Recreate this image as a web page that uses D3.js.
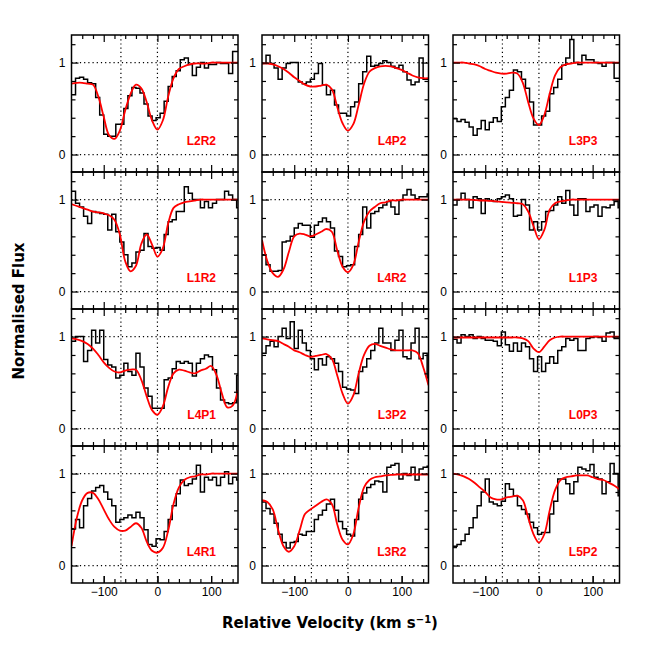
<!doctype html>
<html>
<head>
<meta charset="utf-8">
<title>Normalised flux panels</title>
<script src="https://d3js.org/d3.v7.min.js"></script>
<style>
body { margin:0; background:#fff; }
svg { display:block; font-family:"Liberation Sans", Arial, sans-serif; }
.axis path { display:none; }
.axis line { stroke:#000; stroke-width:1.2; }
.axis text { font-size:12px; fill:#000; }
.title { font-family:"DejaVu Sans", sans-serif; font-weight:bold; font-size:15px; }
</style>
</head>
<body>
<script>
// velocity grid (km/s): left edges of the data bins, and the model sample points
var binLeft = [-160,-152.5,-145,-137.5,-130,-122.5,-115,-107.5,-100,-92.5,-85,-77.5,-70,-62.5,-55,-47.5,-40,-32.5,-25,-17.5,-10,-2.5,5,12.5,20,27.5,35,42.5,50,57.5,65,72.5,80,87.5,95,102.5,110,117.5,125,132.5,140,147.5];
var binEnd = 155;
var modelVel = [-160,-150,-140,-130,-120,-110,-100,-90,-80,-70,-60,-50,-40,-30,-20,-10,0,10,20,30,40,50,60,70,80,90,100,110,120,130,140,150];

var majorX = [-100,0,100];
var minorX = [-140,-120,-80,-60,-40,-20,20,40,60,80,120,140];
var majorY = [0,1];
var minorY = [0.2,0.4,0.6,0.8,1.2];
var refVel = [-68,0];

var fluxL2R2 = [0.65,0.83,0.84,0.82,0.78,0.77,0.62,0.43,0.22,0.2,0.2,0.33,0.33,0.5,0.64,0.73,0.72,0.67,0.55,0.42,0.37,0.4,0.45,0.58,0.74,0.85,0.91,1.03,1.05,0.98,0.86,0.95,1.0,0.94,0.98,0.98,1.0,0.99,0.99,0.88,1.12,1.12];
var modelL2R2 = [0.77,0.78,0.78,0.77,0.76,0.63,0.41,0.21,0.17,0.26,0.48,0.66,0.76,0.72,0.57,0.37,0.27,0.37,0.63,0.83,0.93,0.96,0.98,0.99,0.99,0.99,1.0,1.0,1.0,1.0,1.0,1.0];

var fluxL4P2 = [0.99,1.08,0.99,0.94,0.82,0.94,0.99,1.0,1.0,0.79,0.77,0.79,0.82,0.88,0.99,0.76,0.65,0.7,0.54,0.45,0.45,0.42,0.52,0.57,0.77,0.9,1.07,0.96,0.97,0.99,1.02,1.0,0.96,0.94,0.97,0.9,0.81,0.76,0.79,1.05,0.82,0.82];
var modelL4P2 = [0.99,0.99,0.98,0.96,0.93,0.89,0.84,0.80,0.76,0.74,0.74,0.75,0.76,0.71,0.52,0.34,0.26,0.33,0.54,0.77,0.90,0.94,0.96,0.965,0.96,0.94,0.92,0.89,0.86,0.84,0.83,0.83];

var fluxL3P3 = [0.39,0.36,0.38,0.35,0.3,0.21,0.28,0.37,0.27,0.35,0.4,0.36,0.52,0.62,0.7,0.92,0.9,0.82,0.72,0.57,0.32,0.32,0.42,0.47,0.66,0.73,0.82,0.97,1.05,1.25,1.0,0.98,1.08,1.03,1.03,1.0,0.99,0.96,1.0,1.0,0.83,0.83];
var modelL3P3 = [1.0,1.0,1.0,0.99,0.98,0.96,0.93,0.91,0.89,0.88,0.88,0.89,0.88,0.78,0.57,0.39,0.32,0.43,0.66,0.86,0.95,0.98,0.99,1.0,1.0,1.0,1.0,1.0,1.0,1.0,1.0,1.0];

var fluxL1R2 = [1.09,0.96,0.92,0.82,0.74,0.87,0.86,0.85,0.84,0.67,0.84,0.65,0.54,0.40,0.27,0.31,0.43,0.45,0.63,0.49,0.47,0.48,0.45,0.62,0.76,0.78,0.87,0.87,1.14,1.07,1.0,1.0,0.91,0.98,0.91,0.96,1.0,1.0,1.09,1.05,1.0,0.91];
var modelL1R2 = [0.95,0.93,0.91,0.89,0.87,0.86,0.85,0.83,0.78,0.62,0.33,0.22,0.28,0.52,0.62,0.51,0.38,0.47,0.74,0.91,0.95,0.97,0.98,0.99,1.0,1.0,1.0,1.0,1.0,1.0,1.0,1.0];

var fluxL4R2 = [0.40,0.29,0.22,0.22,0.23,0.54,0.55,0.60,0.69,0.74,0.72,0.72,0.59,0.72,0.76,0.80,0.76,0.69,0.44,0.38,0.27,0.28,0.29,0.49,0.62,0.92,0.69,0.85,0.87,0.91,0.94,0.98,0.92,0.84,0.99,1.05,1.11,1.05,1.01,1.03,1.03,1.06];
var modelL4R2 = [0.56,0.33,0.20,0.16,0.24,0.43,0.60,0.63,0.62,0.60,0.62,0.65,0.68,0.65,0.45,0.27,0.21,0.29,0.54,0.76,0.87,0.92,0.96,0.97,0.99,0.99,1.0,1.0,1.0,1.0,1.0,1.0];

var fluxL1P3 = [0.94,1.0,1.07,1.0,0.91,1.03,1.01,0.85,1.01,0.99,0.98,1.01,1.03,1.05,1.01,0.82,0.83,1.0,0.94,0.67,0.76,0.67,0.76,0.87,0.88,0.94,1.03,0.96,1.1,0.94,0.83,1.01,1.01,0.87,0.92,0.94,0.82,0.92,0.91,0.94,0.98,0.91];
var modelL1P3 = [1.0,1.0,1.0,1.0,0.995,0.99,0.99,0.985,0.98,0.975,0.97,0.965,0.96,0.95,0.87,0.71,0.57,0.67,0.89,0.96,0.98,0.99,1.0,1.0,1.0,1.0,1.0,1.0,1.0,1.0,1.0,1.0];

var fluxL4P1 = [0.95,1.0,1.0,0.73,0.85,1.07,0.93,1.07,0.75,0.69,0.67,0.55,0.58,0.71,0.62,0.58,0.82,0.67,0.44,0.35,0.22,0.22,0.22,0.53,0.55,0.65,0.73,0.71,0.73,0.71,0.57,0.71,0.76,0.80,0.78,0.64,0.44,0.31,0.28,0.27,0.28,0.58];
var modelL4P1 = [0.98,0.97,0.95,0.92,0.87,0.80,0.72,0.66,0.62,0.61,0.63,0.64,0.64,0.53,0.35,0.20,0.15,0.24,0.45,0.60,0.64,0.63,0.61,0.60,0.63,0.65,0.68,0.58,0.38,0.23,0.25,0.42];

var fluxL3P2 = [0.82,0.9,0.95,0.89,1.0,1.09,0.98,1.16,0.87,1.07,0.93,0.85,0.76,0.64,0.76,0.69,0.78,0.76,0.71,0.62,0.45,0.43,0.42,0.38,0.62,0.67,0.76,0.85,0.93,1.09,0.93,0.93,0.85,0.96,1.07,0.78,0.76,0.93,1.09,0.76,0.82,0.55];
var modelL3P2 = [0.98,0.97,0.96,0.95,0.92,0.89,0.85,0.83,0.80,0.78,0.79,0.80,0.81,0.76,0.58,0.38,0.27,0.36,0.60,0.80,0.90,0.92,0.90,0.88,0.86,0.85,0.85,0.85,0.85,0.82,0.67,0.47];

var fluxL0P3 = [0.97,0.93,1.02,1.0,1.02,0.98,1.0,0.98,0.96,0.96,0.95,0.9,1.05,0.91,0.84,0.93,0.84,0.93,0.89,0.76,0.62,0.78,0.62,0.71,0.78,0.71,0.85,0.89,0.98,0.96,0.98,0.85,0.85,0.98,0.99,1.0,0.99,0.95,1.04,1.05,0.98,0.98];
var modelL0P3 = [0.99,0.99,0.99,0.99,0.99,0.99,0.99,0.99,0.99,0.99,0.99,0.99,0.99,0.98,0.95,0.87,0.83,0.89,0.96,0.99,1.0,1.0,1.0,1.0,1.0,1.0,1.0,1.0,1.0,1.0,1.0,1.0];

var fluxL4R1 = [0.4,0.5,0.41,0.65,0.73,0.81,0.85,0.87,0.8,0.72,0.65,0.47,0.5,0.52,0.55,0.52,0.58,0.52,0.39,0.23,0.21,0.29,0.28,0.37,0.5,0.65,0.78,0.93,0.87,0.89,0.94,1.09,0.8,0.96,0.93,0.96,0.87,0.96,1.02,0.89,0.96,0.93];
var modelL4R1 = [0.21,0.52,0.71,0.79,0.79,0.72,0.61,0.50,0.42,0.38,0.38,0.42,0.46,0.41,0.26,0.16,0.14,0.19,0.38,0.67,0.85,0.93,0.96,0.97,0.99,0.99,1.0,1.0,1.0,1.0,1.0,1.0];

var fluxL3R2 = [0.69,0.62,0.56,0.46,0.34,0.25,0.19,0.25,0.26,0.34,0.33,0.37,0.37,0.5,0.55,0.6,0.67,0.72,0.6,0.48,0.4,0.34,0.32,0.5,0.72,0.79,0.85,0.88,0.92,0.91,0.8,1.07,1.09,1.11,0.94,1.0,0.98,1.07,0.93,1.05,1.07,1.08];
var modelL3R2 = [0.71,0.69,0.61,0.39,0.21,0.15,0.21,0.38,0.56,0.61,0.65,0.69,0.72,0.67,0.45,0.28,0.23,0.34,0.63,0.85,0.93,0.96,0.97,0.98,0.985,0.99,0.99,0.99,0.99,0.99,0.99,0.99];

var fluxL5P2 = [0.21,0.23,0.27,0.34,0.41,0.52,0.65,0.8,0.94,0.69,0.67,0.65,0.7,0.89,0.83,0.76,0.65,0.61,0.56,0.47,0.41,0.34,0.36,0.36,0.56,0.7,0.94,0.94,0.89,0.78,0.91,1.07,1.05,1.03,1.1,0.96,0.94,0.78,0.91,1.11,1.0,0.76];
var modelL5P2 = [1.0,0.99,0.97,0.94,0.90,0.85,0.80,0.74,0.72,0.72,0.74,0.75,0.76,0.71,0.52,0.34,0.25,0.34,0.60,0.82,0.93,0.96,0.97,0.98,0.98,0.98,0.96,0.94,0.93,0.90,0.87,0.83];

var panels = [
  {name:"L2R2", flux:fluxL2R2, model:modelL2R2},
  {name:"L4P2", flux:fluxL4P2, model:modelL4P2},
  {name:"L3P3", flux:fluxL3P3, model:modelL3P3},
  {name:"L1R2", flux:fluxL1R2, model:modelL1R2},
  {name:"L4R2", flux:fluxL4R2, model:modelL4R2},
  {name:"L1P3", flux:fluxL1P3, model:modelL1P3},
  {name:"L4P1", flux:fluxL4P1, model:modelL4P1},
  {name:"L3P2", flux:fluxL3P2, model:modelL3P2},
  {name:"L0P3", flux:fluxL0P3, model:modelL0P3},
  {name:"L4R1", flux:fluxL4R1, model:modelL4R1},
  {name:"L3R2", flux:fluxL3R2, model:modelL3R2},
  {name:"L5P2", flux:fluxL5P2, model:modelL5P2}
];

var colX = [71.5, 262, 453], rowY = [35, 172, 309, 446];
var panelW = 166.5, panelH = 137;

var svg = d3.select("body").append("svg").attr("width", 654).attr("height", 654);

var x = d3.scaleLinear().domain([-160, 150]).range([0, panelW]);
var y = d3.scaleLinear().domain([-0.19, 1.3]).range([panelH, 0]);

var stepLine = d3.line().x(function(d){ return x(d[0]); }).y(function(d){ return y(d[1]); }).curve(d3.curveStepAfter);
var smoothLine = d3.line().x(function(d){ return x(d[0]); }).y(function(d){ return y(d[1]); }).curve(d3.curveCatmullRom.alpha(0.5));

panels.forEach(function(p, i) {
  var r = Math.floor(i / 3), c = i % 3;
  var g = svg.append("g").attr("transform", "translate(" + colX[c] + "," + rowY[r] + ")");

  var clipId = "clip" + i;
  g.append("clipPath").attr("id", clipId).append("rect").attr("width", panelW).attr("height", panelH);

  // dotted reference lines
  g.selectAll(".hdot").data(majorY).enter().append("line")
    .attr("x1", 0).attr("x2", panelW).attr("y1", function(d){ return y(d); }).attr("y2", function(d){ return y(d); })
    .attr("stroke", "#000").attr("stroke-width", 1.2).attr("stroke-dasharray", "1.2,3");
  g.selectAll(".vdot").data(refVel).enter().append("line")
    .attr("y1", 0).attr("y2", panelH).attr("x1", function(d){ return x(d); }).attr("x2", function(d){ return x(d); })
    .attr("stroke", "#000").attr("stroke-width", 1.2).attr("stroke-dasharray", "1.2,3");

  var pts = binLeft.map(function(v, k){ return [v, p.flux[k]]; });
  pts.push([binEnd, p.flux[p.flux.length - 1]]);
  g.append("path").datum(pts).attr("clip-path", "url(#" + clipId + ")")
    .attr("d", stepLine).attr("fill", "none").attr("stroke", "#000").attr("stroke-width", 1.5);

  var mpts = modelVel.map(function(v, k){ return [v, p.model[k]]; });
  g.append("path").datum(mpts).attr("clip-path", "url(#" + clipId + ")")
    .attr("d", smoothLine).attr("fill", "none").attr("stroke", "#f00").attr("stroke-width", 1.8);

  // inward ticks on all four sides
  function ticks(axis, tr, vals, len) {
    g.append("g").attr("class", "axis").attr("transform", tr)
      .call(axis.tickValues(vals).tickSizeInner(-len).tickSizeOuter(0).tickFormat(""));
  }
  ticks(d3.axisBottom(x), "translate(0," + panelH + ")", minorX, 4);
  ticks(d3.axisBottom(x), "translate(0," + panelH + ")", majorX, 7);
  ticks(d3.axisTop(x), "translate(0,0)", minorX, 4);
  ticks(d3.axisTop(x), "translate(0,0)", majorX, 7);
  ticks(d3.axisLeft(y), "translate(0,0)", minorY, 4);
  ticks(d3.axisRight(y), "translate(" + panelW + ",0)", minorY, 4);
  ticks(d3.axisRight(y), "translate(" + panelW + ",0)", majorY, 7);

  g.append("g").attr("class", "axis")
    .call(d3.axisLeft(y).tickValues(majorY).tickSizeInner(-7).tickSizeOuter(0).tickPadding(6).tickFormat(d3.format("d")));

  if (r === 3) {
    g.append("g").attr("class", "axis").attr("transform", "translate(0," + panelH + ")")
      .call(d3.axisBottom(x).tickValues(majorX).tickSizeInner(-7).tickSizeOuter(0).tickPadding(4).tickFormat(d3.format("d")));
  }

  g.append("rect").attr("width", panelW).attr("height", panelH)
    .attr("fill", "none").attr("stroke", "#000").attr("stroke-width", 1.5);

  g.append("text").attr("x", panelW - 22).attr("y", 110).attr("text-anchor", "end")
    .attr("fill", "#f00").attr("font-size", "12px").attr("font-weight", "bold").text(p.name);
});

var xt = svg.append("text").attr("class", "title").attr("x", 330).attr("y", 628).attr("text-anchor", "middle");
xt.append("tspan").text("Relative Velocity (km s");
xt.append("tspan").attr("dy", -5).attr("font-size", "10px").text("\u22121");
xt.append("tspan").attr("dy", 5).text(")");

svg.append("text").attr("class", "title").attr("transform", "translate(24,311) rotate(-90)").attr("text-anchor", "middle")
  .text("Normalised Flux");
</script>
</body>
</html>
